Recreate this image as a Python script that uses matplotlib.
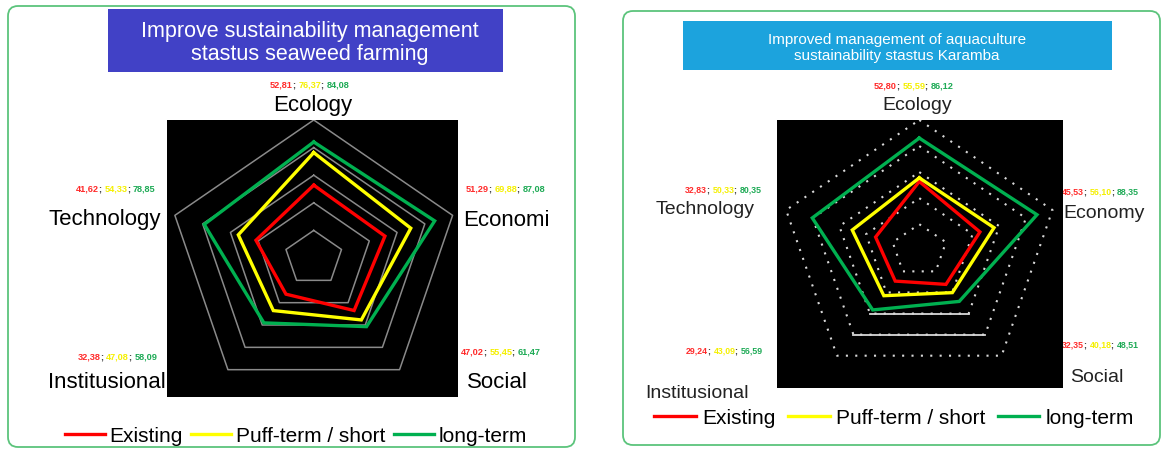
import matplotlib
matplotlib.use("Agg")
import matplotlib.pyplot as plt
import numpy as np
from matplotlib.patches import FancyBboxPatch, Rectangle

# ---------------- data ----------------
categories_left = ["Ecology", "Economi", "Social", "Institusional", "Technology"]
categories_right = ["Ecology", "Economy", "Social", "Institusional", "Technology"]
series_names = ["Existing", "Puff-term / short", "long-term"]
series_colors = ["#ff0000", "#ffff00", "#00b050"]
label_colors = ["#ff2a2a", "#f5f000", "#1daa55"]

left_existing = [52.81, 51.29, 47.02, 32.38, 41.62]
left_short = [76.37, 69.88, 55.45, 47.08, 54.33]
left_long = [84.08, 87.08, 61.47, 58.09, 78.85]

right_existing = [52.80, 45.53, 32.35, 29.24, 32.83]
right_short = [55.59, 56.10, 40.18, 43.09, 50.33]
right_long = [86.12, 88.35, 48.51, 56.59, 80.35]

grid_levels = [20, 40, 60, 80, 100]

left_title = "Improve sustainability management\nstastus seaweed farming"
right_title = "Improved management of aquaculture\nsustainability stastus Karamba"

# ---------------- layout helpers ----------------
W, H = 1166, 450
fig = plt.figure(figsize=(W / 100, H / 100), dpi=100)
fig.patch.set_facecolor("white")
FONT = ["Liberation Sans", "DejaVu Sans"]
plt.rcParams["font.family"] = FONT

bg = fig.add_axes([0, 0, 1, 1])
bg.set_xlim(0, W)
bg.set_ylim(H, 0)
bg.axis("off")


def px_axes(x0, y0, x1, y1):
    return fig.add_axes([x0 / W, 1 - y1 / H, (x1 - x0) / W, (y1 - y0) / H])


angles = np.deg2rad([90, 18, -54, -126, 162])


def xy(vals):
    v = np.asarray(vals, dtype=float)
    x = v * np.cos(angles)
    y = v * np.sin(angles)
    return np.append(x, x[0]), np.append(y, y[0])


# panel borders
for (x0, y0, x1, y1) in [(8, 6, 575, 447), (623, 11, 1160, 445)]:
    bg.add_patch(FancyBboxPatch((x0, y0), x1 - x0, y1 - y0,
                                boxstyle="round,pad=0,rounding_size=10",
                                fill=False, ec="#5cc47c", lw=1.3))

# title boxes
bg.add_patch(Rectangle((108, 9), 395, 63, fc="#4141c6", ec="none"))
bg.text(310, 43, left_title, color="white", ha="center", va="center",
        fontsize=15.5, linespacing=1.1)
bg.add_patch(Rectangle((683, 21), 429, 49, fc="#1ca3dd", ec="none"))
bg.text(897, 48, right_title, color="white", ha="center", va="center",
        fontsize=11, linespacing=1.15)


def value_label(x, y, vals, fs=6.6):
    pieces = []
    for i, v in enumerate(vals):
        pieces.append((f"{v:.2f}".replace(".", ","), label_colors[i]))
        if i < len(vals) - 1:
            pieces.append(("; ", "#333333"))
    prev = None
    for s, c in pieces:
        if prev is None:
            prev = bg.text(x, y, s, color=c, fontsize=fs, fontweight="bold",
                           ha="left", va="center",
                           family=["Liberation Sans Narrow", "Liberation Sans"])
        else:
            prev = bg.annotate(s, xy=(1, 0), xycoords=prev, color=c, fontsize=fs,
                               fontweight="bold", ha="left", va="bottom",
                               family=["Liberation Sans Narrow", "Liberation Sans"])


def radar(ax, series, right=False):
    ax.set_facecolor("black")
    for sp in ax.spines.values():
        sp.set_visible(False)
    ax.set_xticks([])
    ax.set_yticks([])
    for g in grid_levels:
        gx, gy = xy([g] * 5)
        if not right:
            ax.plot(gx, gy, color="#8a8a8a", lw=1.1, zorder=1)
        else:
            ax.plot(gx, gy, color="#d8d8d8", lw=1.5, ls=(0, (1, 3.5)), zorder=1)
            if g in (60, 80):
                ax.plot(gx[2:4], gy[2:4], color="#d8d8d8", lw=1.3, zorder=1)
    for vals, col, name in zip(series, series_colors, series_names):
        sx, sy = xy(vals)
        ax.plot(sx, sy, color=col, lw=2.4, label=name, zorder=3,
                solid_joinstyle="miter")


# ---------------- left chart ----------------
axL = px_axes(167, 120, 458, 397)
radar(axL, [left_existing, left_short, left_long])
axL.set_xlim(-100.5, 98.8)
axL.set_ylim(-100.7, 100)

cat_fs = 16
bg.text(313, 106, categories_left[0], ha="center", va="center", fontsize=cat_fs)
bg.text(463, 220, categories_left[1], ha="left", va="center", fontsize=cat_fs)
bg.text(467, 382, categories_left[2], ha="left", va="center", fontsize=cat_fs)
bg.text(166, 382, categories_left[3], ha="right", va="center", fontsize=cat_fs)
bg.text(161, 220, categories_left[4], ha="right", va="center", fontsize=cat_fs)

cols_L = list(zip(left_existing, left_short, left_long))
value_label(270, 85, cols_L[0])
value_label(466, 189, cols_L[1])
value_label(461, 352, cols_L[2])
value_label(78, 357, cols_L[3])
value_label(76, 189, cols_L[4])

hL, lL = axL.get_legend_handles_labels()
fig.legend(hL, lL, loc="center", bbox_to_anchor=(296 / W, 1 - 436 / H), ncol=3,
           frameon=False, fontsize=15, handlelength=1.9, handletextpad=0.25,
           columnspacing=0.4, borderaxespad=0)

# ---------------- right chart ----------------
axR = px_axes(777, 120, 1063, 388)
radar(axR, [right_existing, right_short, right_long], right=True)
axR.set_xlim(-101.6, 102.6)
axR.set_ylim(-105.7, 100)

cat_fs_r = 14
bg.text(917, 106, categories_right[0], ha="center", va="center", fontsize=cat_fs_r, color="#222")
bg.text(1063, 213, categories_right[1], ha="left", va="center", fontsize=cat_fs_r, color="#222")
bg.text(1070, 377, categories_right[2], ha="left", va="center", fontsize=cat_fs_r, color="#222")
bg.text(645, 393, categories_right[3], ha="left", va="center", fontsize=cat_fs_r, color="#222")
bg.text(755, 209, categories_right[4], ha="right", va="center", fontsize=cat_fs_r, color="#222")

cols_R = list(zip(right_existing, right_short, right_long))
value_label(874, 86, cols_R[0], fs=6.6)
value_label(1062, 192, cols_R[1], fs=6.3)
value_label(1062, 345, cols_R[2], fs=6.3)
value_label(686, 351, cols_R[3], fs=6.3)
value_label(685, 190, cols_R[4], fs=6.3)

hR, lR = axR.get_legend_handles_labels()
fig.legend(hR, lR, loc="center", bbox_to_anchor=(894 / W, 1 - 418 / H), ncol=3,
           frameon=False, fontsize=15, handlelength=2.0, handletextpad=0.3,
           columnspacing=0.6, borderaxespad=0)

fig.savefig("out.png", dpi=100, facecolor="white")
